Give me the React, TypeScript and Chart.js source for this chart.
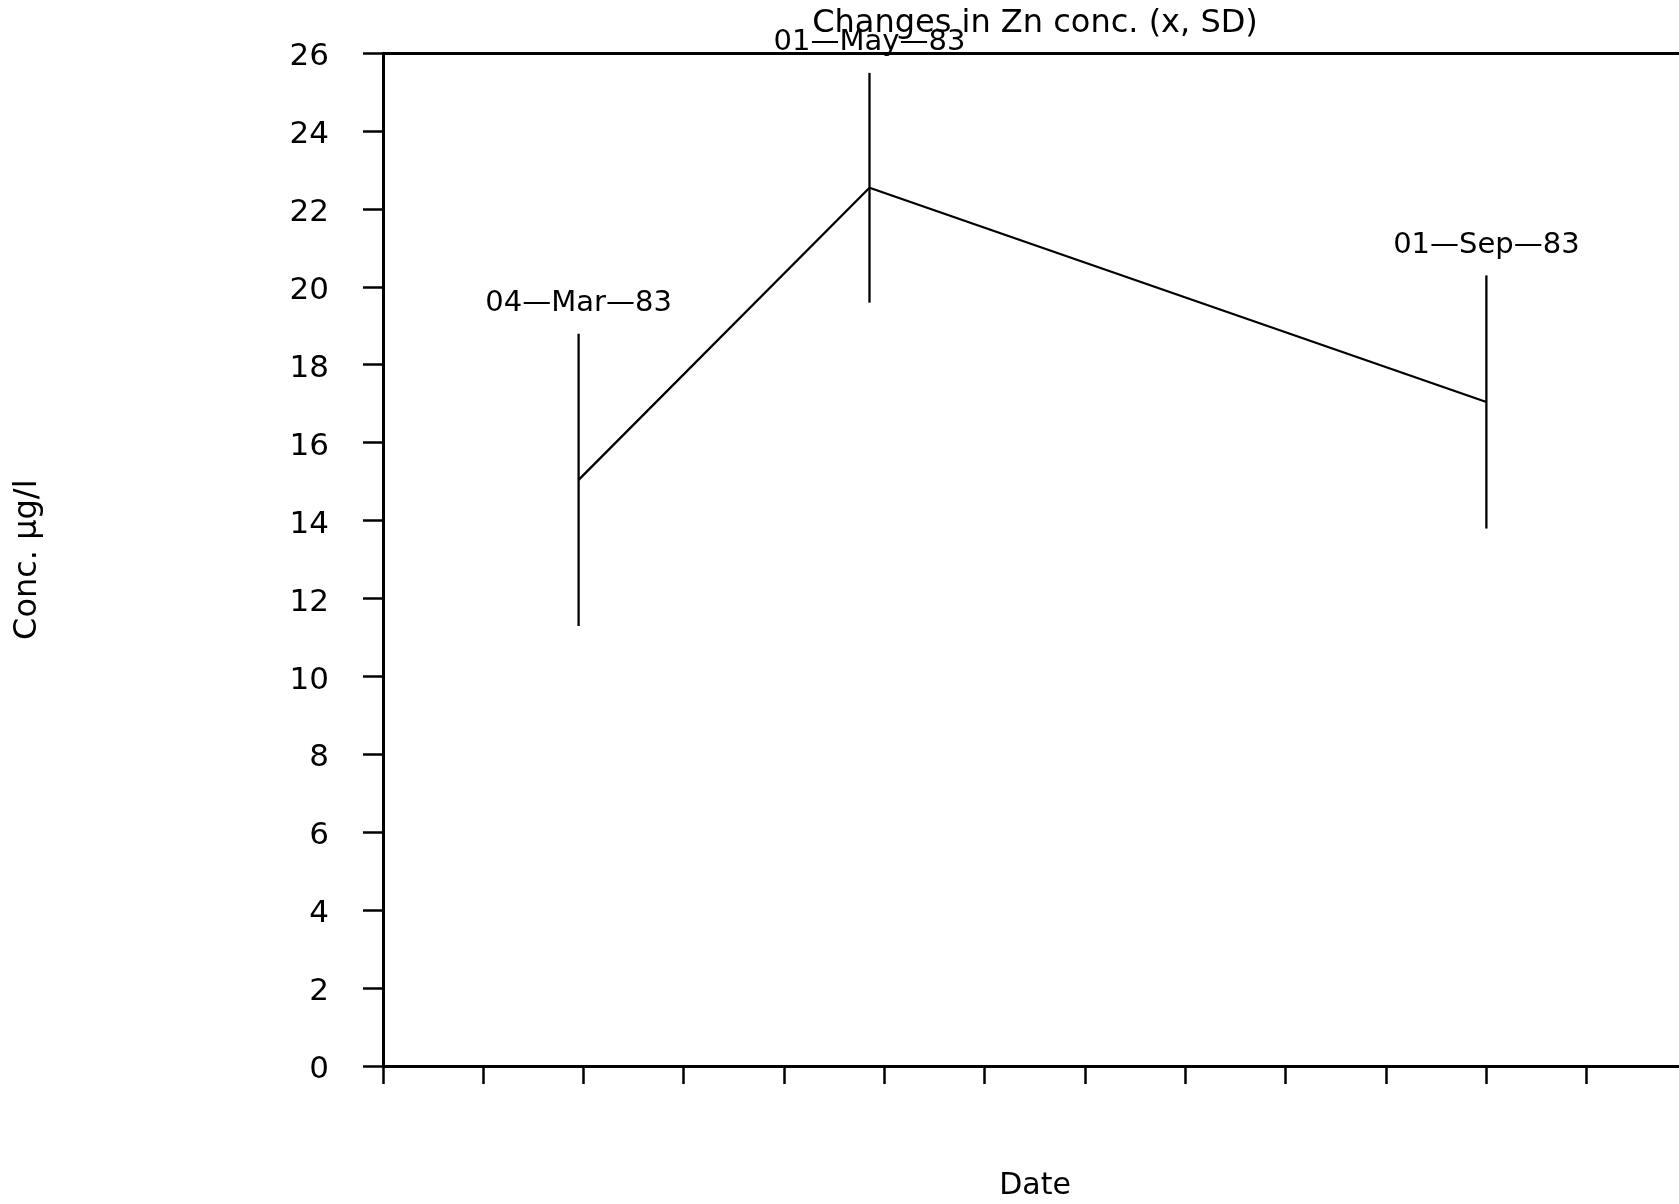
import React, { useEffect, useRef } from 'react';
import { Chart, registerables } from 'chart.js';

Chart.register(...registerables);

// ---- data ----
const chartTitle = 'Changes in Zn conc. (x, SD)';
const xAxisTitle = 'Date';
const yAxisTitle = 'Conc. µg/l';
const sampleDates = ['04—Mar—83', '01—May—83', '01—Sep—83'];
const sampleDayOfYear = [63, 121, 244]; // day of year 1983
const meanConc = [15.05, 22.55, 17.05];
const sdConc = [3.75, 2.95, 3.25];
const xMinDay = 24;
const xMaxDay = 284;
const xStepDays = 20;
const yMin = 0;
const yMax = 26;
const yStep = 2;

const FONT = '"DejaVu Sans", "Liberation Sans", sans-serif';

const errorBarPlugin = {
  id: 'errorBarsAndLabels',
  afterDatasetsDraw(chart: any) {
    const { ctx } = chart;
    const x = chart.scales.x;
    const y = chart.scales.y;
    ctx.save();
    ctx.strokeStyle = '#000';
    ctx.lineWidth = 2.3;
    ctx.fillStyle = '#000';
    ctx.font = `29px ${FONT}`;
    ctx.textAlign = 'center';
    ctx.textBaseline = 'middle';
    sampleDayOfYear.forEach((d, i) => {
      const px = x.getPixelForValue(d);
      const top = y.getPixelForValue(meanConc[i] + sdConc[i]);
      const bot = y.getPixelForValue(meanConc[i] - sdConc[i]);
      ctx.beginPath();
      ctx.moveTo(px, top);
      ctx.lineTo(px, bot);
      ctx.stroke();
      ctx.fillText(sampleDates[i], px, top - 30);
    });
    ctx.restore();
  },
};

export default function App() {
  const canvasRef = useRef<HTMLCanvasElement | null>(null);

  useEffect(() => {
    if (!canvasRef.current) return;
    Chart.defaults.font.family = FONT;
    const chart = new Chart(canvasRef.current, {
      type: 'line',
      data: {
        datasets: [
          {
            data: sampleDayOfYear.map((d, i) => ({ x: d, y: meanConc[i] })),
            borderColor: '#000',
            borderWidth: 2.3,
            pointRadius: 0,
            tension: 0,
            fill: false,
          },
        ],
      },
      options: {
        animation: false,
        responsive: false,
        maintainAspectRatio: false,
        layout: { padding: { left: 0, right: 13, top: 0, bottom: 0 } },
        plugins: {
          legend: { display: false },
          tooltip: { enabled: false },
          title: {
            display: true,
            text: chartTitle,
            fullSize: false,
            color: '#000',
            font: { size: 32, weight: 'normal' },
            padding: { top: 4, bottom: 11 },
          },
        },
        scales: {
          x: {
            type: 'linear',
            position: 'bottom',
            min: xMinDay,
            max: xMaxDay,
            ticks: { display: false, stepSize: xStepDays },
            grid: {
              drawOnChartArea: false,
              drawTicks: true,
              tickLength: 18,
              tickColor: '#000',
              tickWidth: 2.5,
            },
            border: { display: true, color: '#000', width: 3 },
            title: {
              display: true,
              text: xAxisTitle,
              color: '#000',
              font: { size: 30 },
              padding: { top: 0, bottom: 0 },
            },
            afterFit: (s: any) => {
              s.height = 138;
            },
          },
          y: {
            type: 'linear',
            min: yMin,
            max: yMax,
            ticks: {
              stepSize: yStep,
              color: '#000',
              font: { size: 31 },
              padding: 34,
              labelOffset: 4,
            },
            grid: {
              drawOnChartArea: true,
              color: (c: any) => (c.tick && c.tick.value === yMax ? '#000' : 'rgba(0,0,0,0)'),
              lineWidth: 3,
              drawTicks: true,
              tickLength: 20,
              tickColor: '#000',
              tickWidth: 2.5,
            },
            border: { display: true, color: '#000', width: 3 },
            title: {
              display: true,
              text: yAxisTitle,
              color: '#000',
              font: { size: 32 },
              padding: { top: 8, bottom: 0 },
            },
            afterFit: (s: any) => {
              s.width = 383;
            },
          },
        },
      },
      plugins: [errorBarPlugin],
    } as any);
    return () => chart.destroy();
  }, []);

  return (
    <div
      style={{
        position: 'fixed',
        left: 0,
        top: 0,
        width: '100vw',
        height: '100vh',
        overflow: 'hidden',
        background: '#fff',
      }}
    >
      <canvas
        ref={canvasRef}
        width={1700}
        height={1204}
        style={{ display: 'block', width: '1700px', height: '1204px' }}
      />
    </div>
  );
}
